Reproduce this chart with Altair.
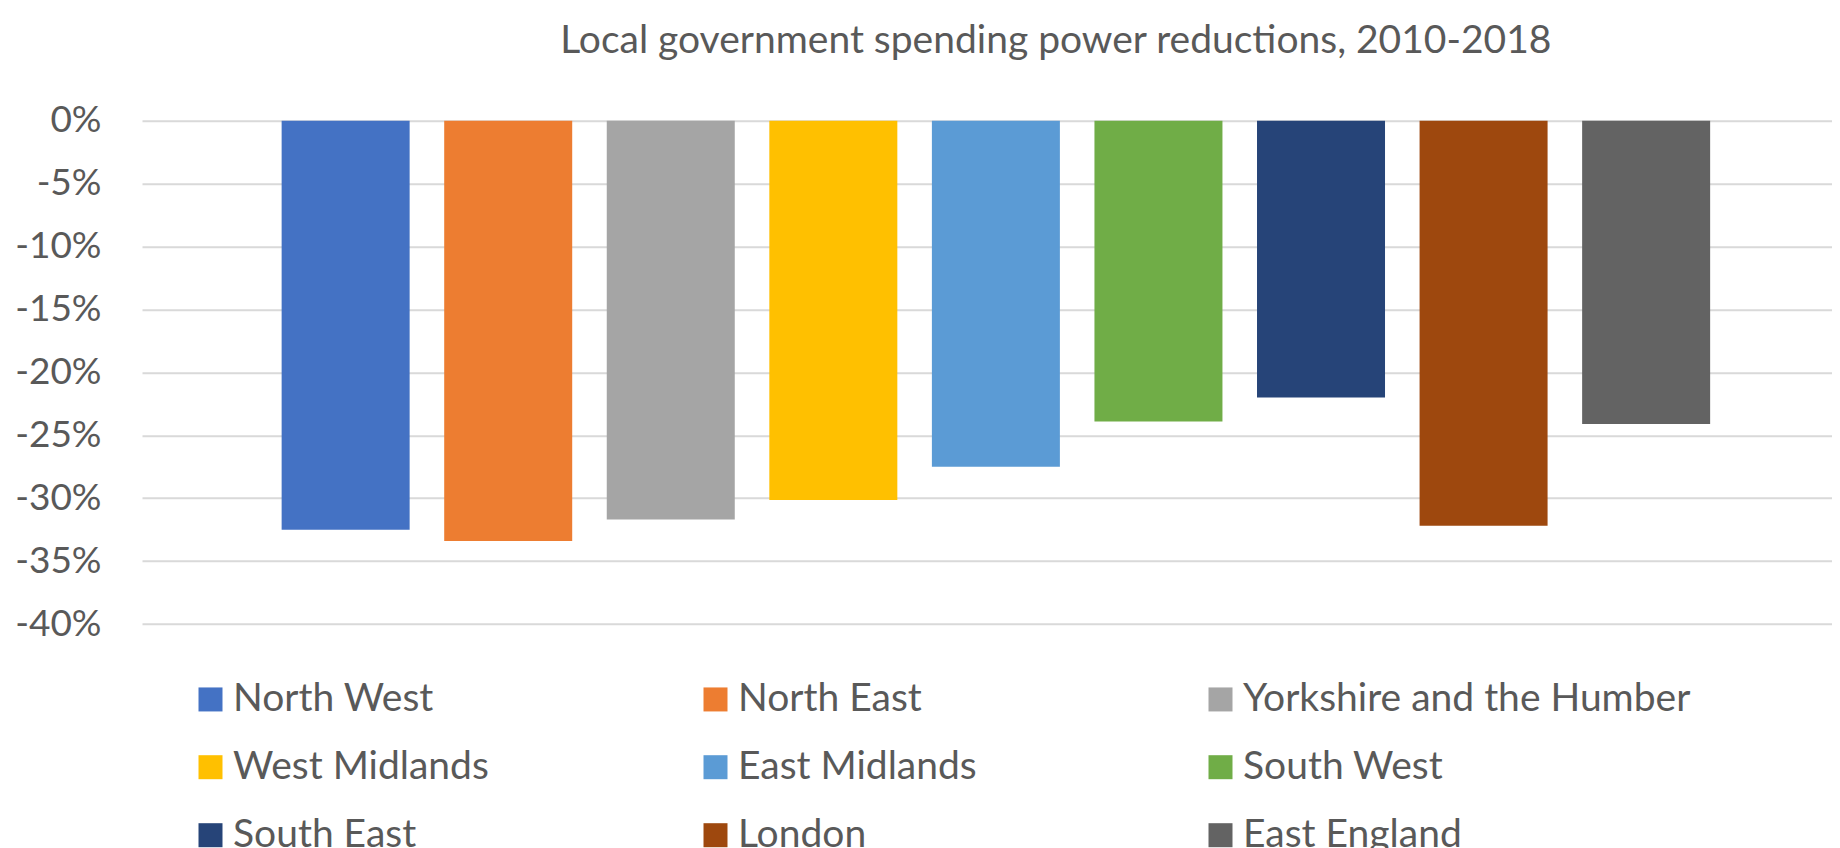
import altair as alt
import pandas as pd

# ---- data ----
regions = [
    "North West", "North East", "Yorkshire and the Humber",
    "West Midlands", "East Midlands", "South West",
    "South East", "London", "East England",
]
change_pct = [-32.5, -33.4, -31.7, -30.15, -27.5, -23.9, -22.0, -32.2, -24.1]
colors = ["#4472C4", "#ED7D31", "#A5A5A5", "#FFC000", "#5B9BD5",
          "#70AD47", "#264478", "#9E480E", "#636363"]
y_ticks = [0, -5, -10, -15, -20, -25, -30, -35, -40]
title_text = "Local government spending power reductions, 2010-2018"

df = pd.DataFrame({"region": regions, "change": change_pct})

FONT = "Lato"
TXT = "#595959"
W = 1690
H = 503.3

chart = alt.Chart(df).mark_bar().encode(
    x=alt.X(
        "region:N", sort=regions, axis=None,
        scale=alt.Scale(paddingInner=0.2126, paddingOuter=0.8043, align=0.534),
    ),
    y=alt.Y(
        "change:Q",
        scale=alt.Scale(domain=[-40, 0], nice=False),
        axis=alt.Axis(
            values=y_ticks, labelExpr="datum.value + '%'", title=None,
            domain=False, ticks=False, labelPadding=41,
            labelFontSize=37, labelColor=TXT, labelFont=FONT,
            gridColor="#D9D9D9", gridWidth=2,
        ),
    ),
    color=alt.Color(
        "region:N",
        scale=alt.Scale(domain=regions, range=colors),
        legend=alt.Legend(
            title=None, orient="none", legendX=49, legendY=559,
            columns=3, direction="horizontal", symbolType="square",
            symbolSize=576, symbolStrokeWidth=0, labelFontSize=39,
            labelColor=TXT, labelFont=FONT, labelOffset=3, rowPadding=28,
            columnPadding=15, gridAlign="all", labelLimit=1000,
            padding=0, offset=0,
        ),
    ),
).properties(
    width=W,
    height=H,
    padding={"left": 134, "top": 112.7, "right": 0, "bottom": 224},
    autosize=alt.AutoSizeParams(type="none"),
    title=alt.TitleParams(
        text=title_text, fontSize=39, font=FONT, color=TXT,
        fontWeight="normal", anchor="middle", frame="group", dx=68.8,
        offset=41,
    ),
).configure(font=FONT).configure_view(stroke=None)

chart.save("out.html", embed_options={"renderer": "svg", "actions": False})
